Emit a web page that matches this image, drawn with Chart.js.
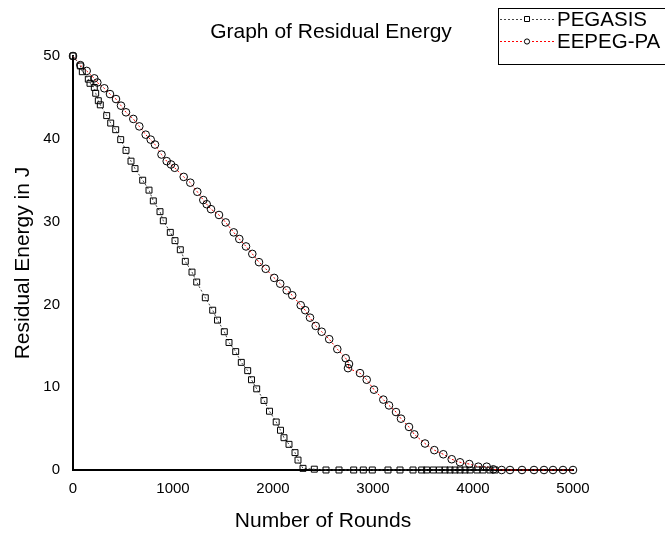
<!DOCTYPE html>
<html lang="en">
<head>
  <meta charset="UTF-8">
  <title>Graph of Residual Energy</title>
  <style>
    html, body { margin: 0; padding: 0; background: #fff; }
    #wrap { width: 665px; height: 535px; }
  </style>
</head>
<body>
  <div id="wrap"><canvas id="energyChart" width="665" height="535"></canvas></div>

  <script src="https://cdn.jsdelivr.net/npm/chart.js"></script>
  <script>
    // values
    const pegasisRounds = [0, 73, 93, 153, 170, 213, 227, 253, 273, 337, 377, 427, 477, 530, 580, 620, 697, 760,
      803, 870, 903, 973, 1020, 1073, 1123, 1190, 1237, 1323, 1397, 1445, 1513, 1560, 1627, 1683, 1747, 1785,
      1837, 1910, 1965, 2032, 2075, 2110, 2160, 2220, 2250, 2300, 2413, 2530, 2660, 2807, 2903, 2993, 3150,
      3270, 3400, 3487, 3537, 3603, 3663, 3720, 3770, 3820, 3870, 3920, 3970, 4040, 4100, 4170, 4220];
    const pegasisEnergy = [50, 48.8, 48.1, 47.2, 46.7, 46.2, 45.5, 44.6, 44.1, 42.8, 41.9, 41.1, 39.9, 38.6, 37.3,
      36.4, 35.0, 33.8, 32.5, 31.2, 30.1, 28.7, 27.7, 26.6, 25.2, 23.9, 22.7, 20.8, 19.3, 18.1, 16.7, 15.4, 14.3,
      13.0, 12.0, 10.9, 9.8, 8.4, 7.1, 5.8, 4.8, 3.9, 3.1, 2.1, 1.2, 0.2, 0.1, 0, 0, 0, 0, 0, 0,
      0, 0, 0, 0, 0, 0, 0, 0, 0, 0, 0, 0, 0, 0, 0, 0];

    const eepegRounds = [0, 73, 137, 213, 243, 313, 370, 430, 480, 530, 603, 663, 727, 777, 820, 885, 937, 980,
      1017, 1107, 1173, 1243, 1303, 1337, 1380, 1460, 1527, 1607, 1663, 1730, 1793, 1860, 1927, 2012, 2072,
      2137, 2192, 2277, 2322, 2370, 2427, 2487, 2562, 2643, 2727, 2760, 2750, 2870, 2937, 3010, 3103, 3160,
      3230, 3280, 3360, 3413, 3520, 3613, 3703, 3787, 3870, 3963, 4053, 4137, 4203, 4287, 4370, 4490, 4610,
      4710, 4800, 4900, 5000];
    const eepegEnergy = [50, 48.9, 48.2, 47.3, 46.8, 46.1, 45.4, 44.8, 44.0, 43.2, 42.4, 41.5, 40.5, 39.9, 39.3,
      38.1, 37.3, 36.9, 36.5, 35.4, 34.7, 33.6, 32.6, 32.1, 31.5, 30.8, 29.9, 28.7, 27.9, 27.0, 26.1, 25.1,
      24.3, 23.2, 22.5, 21.7, 21.1, 19.9, 19.3, 18.4, 17.4, 16.7, 15.8, 14.6, 13.5, 12.8, 12.3, 11.7, 10.9,
      9.7, 8.5, 7.8, 7.0, 6.2, 5.2, 4.3, 3.2, 2.4, 1.9, 1.3, 0.93, 0.72, 0.4, 0.4, 0.08, 0, 0, 0, 0,
      0, 0, 0, 0];

    const xTicks = [0, 1000, 2000, 3000, 4000, 5000];
    const yTicks = [0, 10, 20, 30, 40, 50];

    const FONT = 'Arial, "Liberation Sans", sans-serif';

    function toPoints(xs, ys) {
      return xs.map((x, i) => ({ x: x, y: ys[i] }));
    }

    const series = [
      { label: 'PEGASIS', data: toPoints(pegasisRounds, pegasisEnergy), line: '#444444', style: 'rect', radius: 4.2 },
      { label: 'EEPEG-PA', data: toPoints(eepegRounds, eepegEnergy), line: '#ff0000', style: 'circle', radius: 3.8 }
    ];

    // title and cut-off legend box, drawn on the canvas
    const decorations = {
      id: 'decorations',
      afterDraw(chart) {
        const ctx = chart.ctx;
        ctx.save();
        ctx.fillStyle = '#000';
        ctx.font = '21px ' + FONT;
        ctx.textAlign = 'center';
        ctx.textBaseline = 'middle';
        ctx.fillText('Graph of Residual Energy', 331, 32);

        ctx.strokeStyle = '#000';
        ctx.lineWidth = 1;
        ctx.strokeRect(498.5, 8.5, 200, 56);

        series.forEach((s, i) => {
          const y = 19 + i * 22;
          ctx.setLineDash([2, 2]);
          ctx.strokeStyle = s.line;
          ctx.beginPath();
          ctx.moveTo(500, y + 0.5);
          ctx.lineTo(555, y + 0.5);
          ctx.stroke();
          ctx.setLineDash([]);
          ctx.strokeStyle = '#000';
          ctx.fillStyle = '#fff';
          ctx.beginPath();
          if (s.style === 'rect') {
            ctx.rect(524.5, y - 2.5, 5, 5);
          } else {
            ctx.arc(527, y + 0.5, 2.6, 0, Math.PI * 2);
          }
          ctx.fill();
          ctx.stroke();
          ctx.fillStyle = '#000';
          ctx.font = '20.5px ' + FONT;
          ctx.textAlign = 'left';
          ctx.fillText(s.label, 557, y + 1);
        });
        ctx.restore();
      }
    };

    new Chart(document.getElementById('energyChart'), {
      type: 'scatter',
      data: {
        datasets: series.map(s => ({
          label: s.label,
          data: s.data,
          showLine: true,
          borderColor: s.line,
          borderWidth: 1,
          borderDash: [2, 2],
          pointStyle: s.style,
          pointRadius: s.radius,
          pointBorderColor: '#000',
          pointBorderWidth: 1,
          pointBackgroundColor: 'rgba(0,0,0,0)',
          clip: false
        }))
      },
      options: {
        responsive: false,
        animation: false,
        layout: { padding: { top: 56, right: 92, bottom: 0, left: 0 } },
        plugins: { legend: { display: false }, tooltip: { enabled: false } },
        scales: {
          x: {
            type: 'linear',
            min: 0,
            max: 5000,
            afterBuildTicks: axis => { axis.ticks = xTicks.map(v => ({ value: v })); },
            afterFit: axis => { axis.height = 65; },
            grid: { display: false, drawTicks: false },
            border: { color: '#000', width: 2 },
            ticks: { color: '#000', padding: 10, font: { family: FONT, size: 15 }, callback: v => String(v) },
            title: {
              display: true,
              text: 'Number of Rounds',
              color: '#000',
              font: { family: FONT, size: 21 },
              padding: { top: 0, bottom: 1 }
            }
          },
          y: {
            type: 'linear',
            min: 0,
            max: 50,
            afterBuildTicks: axis => { axis.ticks = yTicks.map(v => ({ value: v })); },
            afterFit: axis => { axis.width = 73; },
            grid: { display: false, drawTicks: false },
            border: { color: '#000', width: 2 },
            ticks: { color: '#000', padding: 13, font: { family: FONT, size: 15 }, callback: v => String(v) },
            title: {
              display: true,
              text: 'Residual Energy in J',
              color: '#000',
              font: { family: FONT, size: 21 },
              padding: { top: 11, bottom: 0 }
            }
          }
        }
      },
      plugins: [decorations]
    });
  </script>
</body>
</html>
